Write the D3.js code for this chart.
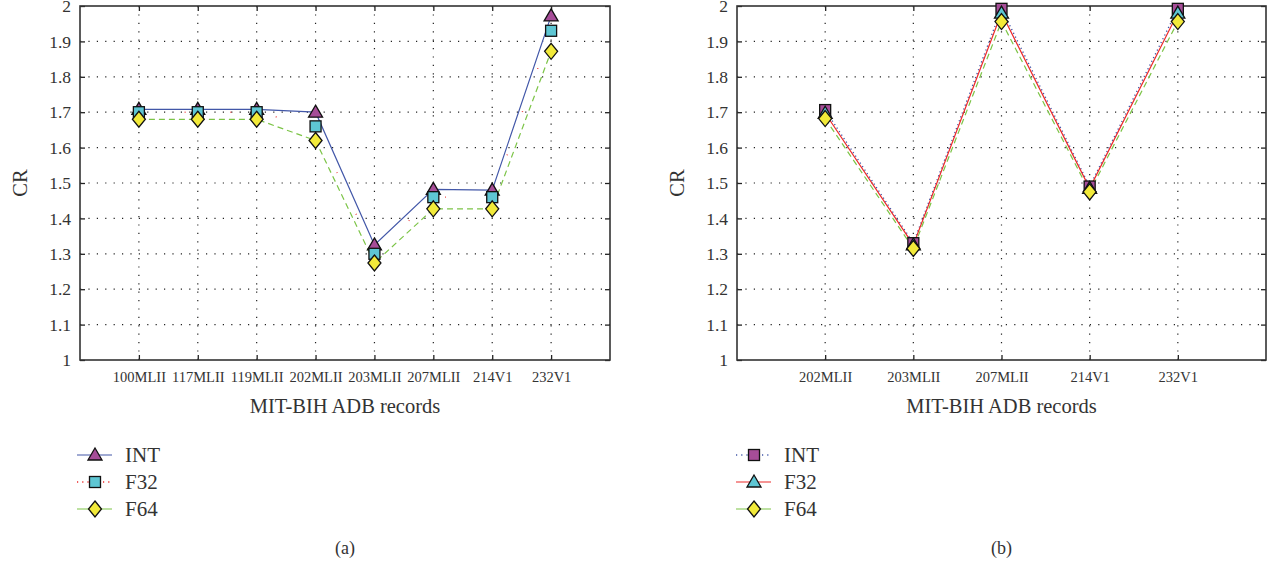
<!DOCTYPE html>
<html>
<head>
<meta charset="utf-8">
<script src="https://cdn.jsdelivr.net/npm/d3@7"></script>
<style>
    body { margin: 0; background: #fff; }
    svg { display: block; }
</style>
</head>
<body>
<svg id="chart" width="1279" height="567"></svg>
<script>
// Data
const recordsA = ['100MLII', '117MLII', '119MLII', '202MLII', '203MLII', '207MLII', '214V1', '232V1'];
const intA = [1.708, 1.708, 1.708, 1.700, 1.325, 1.482, 1.480, 1.972];
const f32A = [1.700, 1.700, 1.700, 1.660, 1.300, 1.460, 1.460, 1.930];
const f64A = [1.680, 1.680, 1.680, 1.620, 1.274, 1.427, 1.427, 1.872];

const recordsB = ['202MLII', '203MLII', '207MLII', '214V1', '232V1'];
const intB = [1.706, 1.330, 1.992, 1.490, 1.992];
const f32B = [1.697, 1.325, 1.980, 1.485, 1.980];
const f64B = [1.682, 1.315, 1.956, 1.475, 1.956];

const yTicks = [1, 1.1, 1.2, 1.3, 1.4, 1.5, 1.6, 1.7, 1.8, 1.9, 2];

const BLUE = '#4257a8', RED = '#ec2a2a', GREEN = '#7cc447';
const PURPLE = '#a64d98', CYAN = '#5ec6d3', YELLOW = '#f2ea3a';
const FONT = 'Liberation Serif';

const svg = d3.select('#chart');

// marker shapes
function marker(g, type, fill) {
    let p;
    if (type === 'triangle') {
        p = g.append('path').attr('d', 'M0,-7L7,5L-7,5Z');
    } else if (type === 'square') {
        p = g.append('rect').attr('x', -5.5).attr('y', -5.5).attr('width', 11).attr('height', 11);
    } else {
        p = g.append('path').attr('d', 'M0,-8L6.5,0L0,8L-6.5,0Z');
    }
    p.attr('fill', fill).attr('stroke', '#111').attr('stroke-width', 1.3);
}

function dashOf(s) {
    if (s.dash === 'dotted') return s.faint ? '0.8,45' : '1.2,3';
    if (s.dash === 'dashed') return '6,4';
    return null;
}

function drawPanel(cfg) {
    const { left, right, top, bottom, cats, series } = cfg;
    const x = d3.scaleLinear().domain([0, cats.length + 1]).range([left, right]);
    const y = d3.scaleLinear().domain([1, 2]).range([bottom, top]);
    const g = svg.append('g');

    // dotted grid
    g.append('g').selectAll('line').data(yTicks.slice(1, -1)).enter().append('line')
        .attr('x1', left).attr('x2', right)
        .attr('y1', d => y(d)).attr('y2', d => y(d))
        .attr('stroke', '#222').attr('stroke-width', 1.2)
        .attr('stroke-dasharray', '1.2,7.2');
    g.append('g').selectAll('line').data(cats).enter().append('line')
        .attr('x1', (d, i) => x(i + 1)).attr('x2', (d, i) => x(i + 1))
        .attr('y1', top).attr('y2', bottom)
        .attr('stroke', '#222').attr('stroke-width', 1.2)
        .attr('stroke-dasharray', '1.2,7.2');

    // axes with inward ticks on all sides
    const catIdx = cats.map((d, i) => i + 1);
    g.append('g').attr('transform', `translate(0,${bottom})`)
        .call(d3.axisBottom(x).tickValues(catIdx).tickSize(-5).tickFormat(d => cats[d - 1]).tickPadding(12))
        .call(a => a.select('.domain').remove())
        .call(a => a.selectAll('text').attr('font-size', 14.5).attr('fill', '#333'));
    g.append('g').attr('transform', `translate(0,${top})`)
        .call(d3.axisTop(x).tickValues(catIdx).tickSize(-5).tickFormat(''))
        .call(a => a.select('.domain').remove());
    g.append('g').attr('transform', `translate(${left},0)`)
        .call(d3.axisLeft(y).tickValues(yTicks).tickSize(-5).tickPadding(9).tickFormat(d => d === 1 || d === 2 ? d3.format('d')(d) : d3.format('.1f')(d)))
        .call(a => a.select('.domain').remove())
        .call(a => a.selectAll('text').attr('font-size', 17.5).attr('fill', '#333'));
    g.append('g').attr('transform', `translate(${right},0)`)
        .call(d3.axisRight(y).tickValues(yTicks).tickSize(-5).tickFormat(''))
        .call(a => a.select('.domain').remove());
    g.selectAll('.tick line').attr('stroke', '#222').attr('stroke-width', 1.3);
    g.selectAll('g').attr('font-family', FONT);

    // frame
    g.append('rect').attr('x', left).attr('y', top)
        .attr('width', right - left).attr('height', bottom - top)
        .attr('fill', 'none').attr('stroke', '#333').attr('stroke-width', 1.6);

    // lines, then markers on top
    const line = d3.line().x((d, i) => x(i + 1)).y(d => y(d));
    series.forEach(s => {
        g.append('path').datum(s.values)
            .attr('d', line).attr('fill', 'none')
            .attr('stroke', s.stroke).attr('stroke-width', s.dash === 'dotted' ? 1.4 : 1.2)
            .attr('stroke-dasharray', dashOf(s));
    });
    series.forEach(s => {
        s.values.forEach((v, i) => {
            const m = g.append('g').attr('transform', `translate(${x(i + 1)},${y(v)})`);
            marker(m, s.shape, s.fill);
        });
    });

    // axis titles
    const cx = (left + right) / 2;
    g.append('text').attr('x', cx).attr('y', 413).attr('text-anchor', 'middle')
        .attr('font-family', FONT).attr('fill', '#333')
        .attr('font-size', 20.5).text('MIT-BIH ADB records');
    g.append('text').attr('transform', `translate(${left - 53},${(top + bottom) / 2}) rotate(-90)`)
        .attr('font-family', FONT).attr('fill', '#333')
        .attr('text-anchor', 'middle').attr('font-size', 20.5).text('CR');

    // legend
    const lx = cfg.legendX;
    series.forEach((s, i) => {
        const ly = 455 + i * 27;
        g.append('line').attr('x1', lx).attr('x2', lx + 35).attr('y1', ly).attr('y2', ly)
            .attr('stroke', s.stroke).attr('stroke-width', s.dash === 'dotted' ? 1.4 : 1.2)
            .attr('stroke-dasharray', s.dash === 'dotted' ? '1.2,4' : null);
        const m = g.append('g').attr('transform', `translate(${lx + 18},${ly})`);
        marker(m, s.shape, s.fill);
        g.append('text').attr('x', lx + 48).attr('y', ly + 7)
            .attr('font-family', FONT).attr('fill', '#333')
            .attr('font-size', 21).text(s.name);
    });

    g.append('text').attr('x', cx).attr('y', 554).attr('text-anchor', 'middle')
        .attr('font-family', FONT).attr('fill', '#333')
        .attr('font-size', 18).text(cfg.caption);
}

drawPanel({
    left: 80, right: 610, top: 6, bottom: 360,
    cats: recordsA, legendX: 77, caption: '(a)',
    series: [
        { name: 'INT', values: intA, stroke: BLUE, dash: 'solid', shape: 'triangle', fill: PURPLE },
        { name: 'F32', values: f32A, stroke: RED, dash: 'dotted', faint: true, shape: 'square', fill: CYAN },
        { name: 'F64', values: f64A, stroke: GREEN, dash: 'dashed', shape: 'diamond', fill: YELLOW }
    ]
});

drawPanel({
    left: 737, right: 1266, top: 6, bottom: 360,
    cats: recordsB, legendX: 736, caption: '(b)',
    series: [
        { name: 'INT', values: intB, stroke: BLUE, dash: 'dotted', shape: 'square', fill: PURPLE },
        { name: 'F32', values: f32B, stroke: RED, dash: 'solid', shape: 'triangle', fill: CYAN },
        { name: 'F64', values: f64B, stroke: GREEN, dash: 'dashed', shape: 'diamond', fill: YELLOW }
    ]
});
</script>
</body>
</html>
